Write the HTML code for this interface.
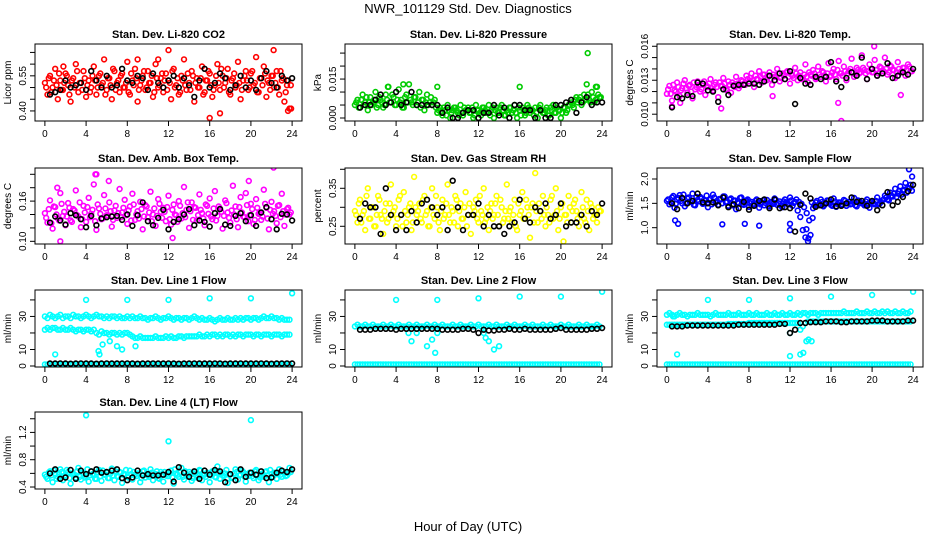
<!DOCTYPE html>
<html><head><meta charset="utf-8"><style>
html,body{margin:0;padding:0;background:#fff;}
svg{display:block;font-family:"Liberation Sans",Arial,sans-serif;}
</style></head><body>
<svg id="chart" width="936" height="540" viewBox="0 0 936 540">
<text x="468" y="13" text-anchor="middle" font-size="13">NWR_101129  Std. Dev. Diagnostics</text>
<text x="468" y="531" text-anchor="middle" font-size="13">Hour of Day (UTC)</text>
</svg>
<script>
// shared categories (hours)
const hoursC = [0,0.25,0.5,0.75,1,1.25,1.5,1.75,2,2.25,2.5,2.75,3,3.25,3.5,3.75,4,4.25,4.5,4.75,5,5.25,5.5,5.75,6,6.25,6.5,6.75,7,7.25,7.5,7.75,8,8.25,8.5,8.75,9,9.25,9.5,9.75,10,10.25,10.5,10.75,11,11.25,11.5,11.75,12,12.25,12.5,12.75,13,13.25,13.5,13.75,14,14.25,14.5,14.75,15,15.25,15.5,15.75,16,16.25,16.5,16.75,17,17.25,17.5,17.75,18,18.25,18.5,18.75,19,19.25,19.5,19.75,20,20.25,20.5,20.75,21,21.25,21.5,21.75,22,22.25,22.5,22.75,23,23.25,23.5,23.75];
const hoursC2 = [0.125,0.375,0.625,0.875,1.125,1.375,1.625,1.875,2.125,2.375,2.625,2.875,3.125,3.375,3.625,3.875,4.125,4.375,4.625,4.875,5.125,5.375,5.625,5.875,6.125,6.375,6.625,6.875,7.125,7.375,7.625,7.875,8.125,8.375,8.625,8.875,9.125,9.375,9.625,9.875,10.125,10.375,10.625,10.875,11.125,11.375,11.625,11.875,12.125,12.375,12.625,12.875,13.125,13.375,13.625,13.875,14.125,14.375,14.625,14.875,15.125,15.375,15.625,15.875,16.125,16.375,16.625,16.875,17.125,17.375,17.625,17.875,18.125,18.375,18.625,18.875,19.125,19.375,19.625,19.875,20.125,20.375,20.625,20.875,21.125,21.375,21.625,21.875,22.125,22.375,22.625,22.875,23.125,23.375,23.625,23.875];
const hoursK = [0.5,1,1.5,2,2.5,3,3.5,4,4.5,5,5.5,6,6.5,7,7.5,8,8.5,9,9.5,10,10.5,11,11.5,12,12.5,13,13.5,14,14.5,15,15.5,16,16.5,17,17.5,18,18.5,19,19.5,20,20.5,21,21.5,22,22.5,23,23.5,24];
const xTicks = [0,4,8,12,16,20,24];

// Panel 1 CO2
const co2Red = [0.52,0.47,0.55,0.50,0.58,0.45,0.53,0.49,0.56,0.51,0.44,0.54,0.60,0.48,0.52,0.57,0.46,0.53,0.50,0.59,0.47,0.55,0.51,0.62,0.49,0.54,0.45,0.57,0.52,0.48,0.56,0.50,0.61,0.47,0.53,0.58,0.44,0.51,0.55,0.49,0.57,0.52,0.46,0.60,0.50,0.54,0.48,0.56,0.53,0.45,0.58,0.51,0.47,0.55,0.62,0.49,0.52,0.57,0.44,0.54,0.50,0.59,0.48,0.53,0.56,0.46,0.51,0.60,0.49,0.55,0.52,0.58,0.47,0.54,0.50,0.61,0.45,0.53,0.57,0.49,0.56,0.51,0.63,0.48,0.54,0.59,0.46,0.52,0.55,0.50,0.57,0.47,0.53,0.44,0.51,0.41];
const co2Red2 = [0.50,0.54,0.48,0.53,0.51,0.56,0.49,0.52,0.55,0.47,0.53,0.50,0.57,0.52,0.49,0.54,0.51,0.48,0.55,0.53,0.50,0.56,0.52,0.47,0.54,0.51,0.58,0.49,0.53,0.55,0.50,0.52,0.48,0.56,0.51,0.54,0.49,0.53,0.57,0.50,0.52,0.55,0.48,0.54,0.51,0.56,0.53,0.49,0.52,0.57,0.50,0.54,0.48,0.53,0.51,0.56,0.49,0.55,0.52,0.50,0.54,0.47,0.53,0.57,0.51,0.49,0.55,0.52,0.58,0.50,0.54,0.48,0.53,0.56,0.51,0.52,0.49,0.55,0.53,0.50,0.57,0.52,0.48,0.54,0.51,0.56,0.53,0.49,0.55,0.52,0.50,0.57,0.54,0.48,0.53,0.51];
const co2Black = [0.47,0.48,0.49,0.53,0.50,0.51,0.52,0.49,0.57,0.53,0.50,0.55,0.50,0.51,0.58,0.53,0.52,0.55,0.54,0.49,0.56,0.52,0.50,0.53,0.55,0.50,0.54,0.51,0.46,0.53,0.58,0.50,0.52,0.56,0.54,0.49,0.51,0.55,0.50,0.53,0.49,0.54,0.57,0.52,0.50,0.55,0.53,0.54];
const co2OutH = [1.8,9,11,12,16,17,22.2,23.6,23.9];
const co2OutV = [0.59,0.62,0.62,0.66,0.37,0.39,0.66,0.40,0.41];

// Panel 2 pressure
const presGreen = [0.005,0.007,0.004,0.009,0.006,0.003,0.008,0.006,0.010,0.005,0.007,0.004,0.009,0.012,0.006,0.008,0.005,0.011,0.007,0.004,0.009,0.013,0.006,0.008,0.005,0.010,0.007,0.003,0.009,0.006,0.005,0.007,0.002,0.004,0.001,0.003,0.005,0.000,0.003,0.004,0.002,0.005,0.001,0.003,0.004,0.002,0.000,0.005,0.003,0.001,0.004,0.002,0.005,0.003,0.000,0.004,0.002,0.005,0.001,0.003,0.004,0.002,0.005,0.000,0.003,0.004,0.001,0.005,0.002,0.003,0.004,0.000,0.005,0.002,0.003,0.001,0.004,0.005,0.002,0.003,0.000,0.004,0.002,0.005,0.006,0.004,0.008,0.007,0.005,0.009,0.013,0.007,0.010,0.006,0.012,0.008];
const presGreen2 = [0.006,0.004,0.007,0.005,0.008,0.006,0.005,0.007,0.004,0.008,0.006,0.005,0.007,0.006,0.009,0.005,0.007,0.006,0.004,0.008,0.006,0.007,0.005,0.008,0.006,0.004,0.007,0.006,0.005,0.008,0.006,0.004,0.003,0.002,0.004,0.001,0.003,0.002,0.004,0.003,0.001,0.002,0.004,0.003,0.002,0.004,0.001,0.003,0.002,0.004,0.003,0.002,0.001,0.004,0.003,0.002,0.004,0.003,0.001,0.002,0.004,0.003,0.002,0.004,0.001,0.003,0.002,0.004,0.003,0.001,0.002,0.004,0.003,0.002,0.004,0.001,0.003,0.002,0.004,0.003,0.002,0.004,0.003,0.005,0.005,0.007,0.006,0.008,0.006,0.007,0.009,0.006,0.008,0.007,0.009,0.008];
const presBlack = [0.004,0.005,0.005,0.007,0.009,0.005,0.006,0.010,0.005,0.006,0.010,0.005,0.005,0.005,0.005,0.005,0.002,0.004,0.000,0.000,0.002,0.003,0.003,0.000,0.002,0.002,0.005,0.001,0.004,0.000,0.005,0.005,0.003,0.003,0.000,0.003,0.000,0.000,0.005,0.005,0.006,0.007,0.002,0.006,0.008,0.005,0.006,0.006];
const presOutH = [4.7,16,22.6,8,3.2,23.4];
const presOutV = [0.013,0.012,0.025,0.012,0.012,0.012];

// Panel 3 Li temp
const liTempMag = [0.0118,0.0125,0.0112,0.0121,0.0128,0.0116,0.0123,0.0130,0.0119,0.0126,0.0114,0.0122,0.0129,0.0120,0.0127,0.0117,0.0124,0.0131,0.0121,0.0128,0.0115,0.0125,0.0132,0.0122,0.0129,0.0119,0.0126,0.0133,0.0123,0.0130,0.0127,0.0134,0.0129,0.0136,0.0124,0.0131,0.0138,0.0128,0.0135,0.0130,0.0137,0.0126,0.0133,0.0140,0.0129,0.0136,0.0131,0.0138,0.0127,0.0134,0.0141,0.0130,0.0137,0.0132,0.0144,0.0128,0.0135,0.0139,0.0131,0.0142,0.0133,0.0137,0.0129,0.0145,0.0134,0.0140,0.0131,0.0147,0.0136,0.0142,0.0130,0.0138,0.0149,0.0133,0.0141,0.0136,0.0152,0.0139,0.0131,0.0144,0.0137,0.0148,0.0134,0.0142,0.0138,0.0150,0.0135,0.0143,0.0139,0.0132,0.0146,0.0137,0.0141,0.0134,0.0144,0.0138];
const liTempMag2 = [0.0122,0.0118,0.0126,0.0120,0.0124,0.0121,0.0127,0.0123,0.0125,0.0120,0.0128,0.0124,0.0126,0.0122,0.0129,0.0125,0.0127,0.0123,0.0126,0.0124,0.0128,0.0125,0.0127,0.0121,0.0126,0.0128,0.0124,0.0127,0.0125,0.0129,0.0126,0.0131,0.0132,0.0130,0.0134,0.0131,0.0133,0.0135,0.0132,0.0134,0.0131,0.0135,0.0133,0.0136,0.0132,0.0134,0.0137,0.0133,0.0135,0.0132,0.0136,0.0134,0.0131,0.0135,0.0133,0.0137,0.0134,0.0136,0.0132,0.0135,0.0138,0.0134,0.0136,0.0133,0.0137,0.0135,0.0139,0.0136,0.0134,0.0138,0.0136,0.0140,0.0137,0.0135,0.0139,0.0137,0.0141,0.0136,0.0138,0.0140,0.0137,0.0139,0.0136,0.0141,0.0138,0.0140,0.0137,0.0142,0.0139,0.0137,0.0140,0.0138,0.0141,0.0139,0.0142,0.0138];
const liTempBlack = [0.0106,0.0115,0.0114,0.0117,0.0116,0.0128,0.0127,0.0121,0.0120,0.0111,0.0122,0.0117,0.0125,0.0126,0.0126,0.0127,0.0127,0.0126,0.0129,0.0134,0.0130,0.0136,0.0131,0.0138,0.0109,0.0132,0.0127,0.0126,0.0133,0.0131,0.0133,0.0146,0.0129,0.0124,0.0132,0.0137,0.0134,0.0150,0.0131,0.0140,0.0134,0.0136,0.0145,0.0132,0.0134,0.0137,0.0135,0.0140];
const liTempOutH = [0.5,5.3,10.3,16.7,17,20.2,22.8,1.3];
const liTempOutV = [0.0107,0.0105,0.0116,0.0110,0.0094,0.0160,0.0117,0.0110];

// Panel 4 Amb box temp
const ambMag = [0.142,0.128,0.161,0.119,0.151,0.134,0.172,0.138,0.124,0.157,0.131,0.148,0.176,0.137,0.121,0.153,0.129,0.165,0.141,0.185,0.117,0.149,0.133,0.169,0.139,0.158,0.122,0.146,0.135,0.178,0.143,0.162,0.126,0.152,0.171,0.132,0.145,0.159,0.118,0.154,0.136,0.174,0.140,0.123,0.163,0.144,0.150,0.130,0.168,0.125,0.155,0.139,0.160,0.134,0.181,0.147,0.120,0.158,0.151,0.131,0.170,0.142,0.124,0.153,0.164,0.133,0.175,0.138,0.149,0.119,0.161,0.143,0.128,0.183,0.152,0.121,0.166,0.137,0.172,0.130,0.156,0.126,0.163,0.141,0.132,0.177,0.150,0.118,0.159,0.145,0.127,0.154,0.171,0.123,0.148,0.140];
const ambMag2 = [0.135,0.148,0.127,0.152,0.140,0.131,0.156,0.144,0.137,0.150,0.129,0.146,0.139,0.158,0.133,0.143,0.151,0.136,0.147,0.130,0.155,0.141,0.134,0.149,0.138,0.145,0.132,0.153,0.142,0.136,0.150,0.139,0.146,0.131,0.155,0.140,0.134,0.148,0.137,0.152,0.143,0.130,0.149,0.138,0.156,0.135,0.144,0.151,0.133,0.147,0.140,0.129,0.153,0.142,0.136,0.158,0.145,0.132,0.150,0.139,0.147,0.134,0.155,0.141,0.137,0.149,0.131,0.152,0.144,0.138,0.157,0.135,0.146,0.140,0.133,0.151,0.143,0.136,0.154,0.139,0.148,0.132,0.150,0.142,0.137,0.156,0.134,0.147,0.141,0.138,0.153,0.136,0.145,0.140,0.150,0.143];
const ambBlack = [0.128,0.137,0.131,0.125,0.142,0.139,0.133,0.121,0.138,0.124,0.134,0.136,0.137,0.138,0.132,0.140,0.123,0.139,0.158,0.130,0.124,0.135,0.147,0.118,0.129,0.133,0.140,0.148,0.124,0.131,0.129,0.122,0.142,0.148,0.125,0.123,0.138,0.142,0.130,0.139,0.123,0.143,0.151,0.133,0.118,0.141,0.140,0.131];
const ambOutH = [1.5,4.9,5.0,22.2,12.4,19.8,1.2,6.2];
const ambOutV = [0.10,0.20,0.20,0.21,0.105,0.19,0.18,0.19];

// Panel 5 gas stream RH
const rhYellow = [0.29,0.26,0.32,0.28,0.24,0.35,0.27,0.30,0.25,0.33,0.28,0.23,0.31,0.27,0.36,0.29,0.25,0.32,0.28,0.34,0.26,0.30,0.24,0.38,0.28,0.31,0.26,0.33,0.29,0.25,0.35,0.27,0.30,0.24,0.32,0.28,0.36,0.26,0.29,0.33,0.25,0.31,0.27,0.34,0.28,0.23,0.30,0.32,0.26,0.29,0.35,0.27,0.24,0.31,0.28,0.33,0.25,0.30,0.27,0.36,0.29,0.26,0.32,0.24,0.28,0.34,0.27,0.30,0.22,0.31,0.39,0.26,0.29,0.33,0.25,0.28,0.32,0.27,0.35,0.24,0.30,0.21,0.28,0.33,0.26,0.31,0.29,0.25,0.34,0.27,0.32,0.24,0.30,0.28,0.26,0.29];
const rhYellow2 = [0.28,0.31,0.26,0.29,0.33,0.27,0.30,0.25,0.28,0.32,0.27,0.29,0.26,0.31,0.28,0.30,0.27,0.33,0.25,0.29,0.28,0.31,0.26,0.30,0.29,0.27,0.32,0.28,0.25,0.30,0.28,0.33,0.26,0.29,0.27,0.31,0.28,0.30,0.26,0.32,0.29,0.27,0.30,0.25,0.31,0.28,0.29,0.27,0.33,0.28,0.26,0.30,0.29,0.27,0.31,0.28,0.32,0.26,0.29,0.27,0.30,0.28,0.25,0.31,0.29,0.27,0.32,0.28,0.30,0.26,0.29,0.31,0.27,0.28,0.30,0.26,0.33,0.28,0.29,0.27,0.31,0.28,0.26,0.30,0.29,0.32,0.27,0.28,0.30,0.26,0.29,0.31,0.27,0.28,0.30,0.29];
const rhBlack = [0.27,0.31,0.30,0.30,0.23,0.35,0.28,0.24,0.28,0.24,0.29,0.26,0.31,0.32,0.30,0.28,0.30,0.24,0.37,0.30,0.24,0.28,0.28,0.31,0.25,0.28,0.25,0.25,0.23,0.25,0.26,0.32,0.27,0.26,0.30,0.29,0.31,0.27,0.28,0.31,0.25,0.26,0.26,0.28,0.25,0.29,0.28,0.31];

// Panel 6 sample flow
const sfBlue = [1.55,1.48,1.62,1.41,1.58,1.67,1.50,1.44,1.60,1.53,1.70,1.46,1.57,1.63,1.49,1.55,1.42,1.60,1.68,1.51,1.47,1.58,1.64,1.52,1.45,1.60,1.55,1.38,1.50,1.62,1.47,1.56,1.43,1.53,1.49,1.58,1.41,1.52,1.46,1.57,1.44,1.51,1.60,1.47,1.54,1.42,1.58,1.49,1.62,1.45,1.53,1.35,1.22,0.95,0.80,0.72,0.85,1.40,1.52,1.46,1.58,1.44,1.50,1.55,1.47,1.60,1.43,1.52,1.48,1.57,1.45,1.53,1.49,1.61,1.44,1.55,1.50,1.46,1.58,1.41,1.53,1.48,1.62,1.50,1.56,1.66,1.58,1.72,1.64,1.80,1.70,1.85,1.76,1.92,1.82,1.88];
const sfBlue2 = [1.58,1.52,1.65,1.49,1.61,1.55,1.68,1.50,1.62,1.56,1.47,1.63,1.54,1.60,1.51,1.66,1.57,1.48,1.62,1.55,1.59,1.50,1.64,1.53,1.58,1.46,1.56,1.52,1.61,1.49,1.55,1.58,1.50,1.47,1.55,1.52,1.48,1.56,1.51,1.45,1.53,1.49,1.57,1.50,1.46,1.54,1.52,1.48,1.56,1.51,1.58,1.53,1.49,1.42,1.30,1.15,1.52,1.46,1.55,1.49,1.53,1.47,1.56,1.50,1.45,1.54,1.49,1.52,1.47,1.55,1.50,1.48,1.53,1.46,1.56,1.51,1.49,1.54,1.47,1.52,1.50,1.55,1.48,1.53,1.58,1.62,1.56,1.66,1.70,1.63,1.75,1.68,1.78,1.72,1.80,1.76];
const sfBlack = [1.50,1.38,1.61,1.50,1.55,1.70,1.52,1.50,1.52,1.46,1.62,1.42,1.48,1.40,1.53,1.37,1.45,1.55,1.58,1.40,1.58,1.40,1.42,1.40,0.92,1.47,1.70,1.60,1.43,1.46,1.50,1.58,1.44,1.45,1.50,1.62,1.53,1.55,1.45,1.55,1.36,1.46,1.73,1.46,1.53,1.63,1.75,1.88];
const sfOutH = [0.8,1.1,5.4,7.6,9,23.6,23.9,14.2,13.6,13.8,12,12];
const sfOutV = [1.15,1.08,1.07,1.08,1.04,2.2,2.05,1.2,0.97,0.78,1.08,0.95];

// Panel 7 line 1 flow
const l1Upper = [30,29,31,30,29,30,31,29,30,30,29,31,30,30,29,30,31,30,29,30,31,30,30,29,30,29,30,30,29,30,29,29,30,29,30,29,29,30,29,29,28,29,29,30,29,28,29,29,30,29,28,29,29,28,29,29,28,29,30,29,28,29,28,28,29,28,27,28,29,28,28,29,28,28,29,28,29,28,29,29,28,29,29,28,29,30,29,29,30,29,29,28,29,28,28,28];
const l1Middle = [22,23,22,23,23,22,22,23,22,22,23,22,21,22,22,21,22,22,21,22,20,19,21,20,20,19,20,20,19,20,19,20,20,19,18,17,17,18,17,17,17,17,17,18,17,17,17,18,17,18,17,17,18,18,17,18,18,18,18,18,19,18,18,19,18,19,19,18,19,18,19,19,18,19,18,19,19,18,19,19,19,18,19,19,18,19,19,19,18,19,19,19,18,19,19,19];
const l1Lower = [1,1,1,1,1,1,1,1,1,1,1,1,1,1,1,1,1,1,1,1,1,1,1,1,1,1,1,1,1,1,1,1,1,1,1,1,1,1,1,1,1,1,1,1,1,1,1,1,1,1,1,1,1,1,1,1,1,1,1,1,1,1,1,1,1,1,1,1,1,1,1,1,1,1,1,1,1,1,1,1,1,1,1,1,1,1,1,1,1,1,1,1,1,1,1,1];
const l1Black = [1.5,1.5,1.6,1.5,1.4,1.5,1.6,1.5,1.5,1.4,1.5,1.6,1.5,1.5,1.5,1.6,1.5,1.4,1.5,1.5,1.6,1.5,1.5,1.6,1.5,1.4,1.5,1.5,1.6,1.5,1.5,1.5,1.6,1.5,1.4,1.5,1.5,1.6,1.5,1.5,1.5,1.6,1.5,1.4,1.5,1.5,1.6,1.5];
const l1OutH = [4,8,12,16,20,24,1,5.2,5.3,5.6,7,7.5,8.8,6.3];
const l1OutV = [40,40,40,41,41,44,7,9,7,13,12,10,12,15];

// Panel 8 line 2 flow
const l2Band = [24,25,24,24,25,24,24,25,24,24,24,25,24,24,25,24,24,25,24,24,24,25,24,24,25,24,24,24,25,24,24,25,24,24,25,24,24,24,25,24,24,25,24,24,24,25,24,24,25,24,24,24,25,24,24,25,24,24,24,25,24,24,25,24,24,24,25,24,24,25,24,24,24,25,24,24,25,24,24,24,25,24,24,25,24,24,24,25,24,24,25,24,24,24,25,24];
const l2Lower = [1,1,1,1,1,1,1,1,1,1,1,1,1,1,1,1,1,1,1,1,1,1,1,1,1,1,1,1,1,1,1,1,1,1,1,1,1,1,1,1,1,1,1,1,1,1,1,1,1,1,1,1,1,1,1,1,1,1,1,1,1,1,1,1,1,1,1,1,1,1,1,1,1,1,1,1,1,1,1,1,1,1,1,1,1,1,1,1,1,1,1,1,1,1,1,1];
const l2Black = [22,22,22,22.5,22.5,22.5,22.5,22,22.5,22.5,22.5,22.5,22.5,22.5,22.5,22.5,22,22,22,22,22.5,22.5,22,20,22,21.5,21.5,22,22,22.5,22,22,22.5,22,22,22,22,22,22.5,23,22,22,22,22,22,22.5,22.5,23];
const l2OutH = [4,8,12,16,20,24,5.5,6,7,7.5,8,12.5,13,13.5,14,5.2,7.8,12.7];
const l2OutV = [40,40,41,42,42,45,15,20,12,16,20,20,15,10,12,20,8,17];

// Panel 9 line 3 flow
const l3Upper = [31,32,31,30,31,32,31,31,30,31,31,31,32,31,31,31,31,30,31,32,31,31,31,31,32,31,31,31,32,31,31,31,32,31,31,32,31,31,31,32,31,31,32,31,31,32,31,31,32,31,31,32,31,32,32,31,32,32,32,31,32,32,32,32,32,32,32,32,32,33,32,32,32,32,33,32,32,32,33,32,32,33,32,32,33,32,33,32,32,33,32,32,33,32,32,33];
const l3Middle = [25,25,25,25,25,25,25,25,25,25,25,25,25,25,25,25,25,25,25,25,25,25,25,25,25.5,25.5,25.5,25.5,25.5,25.5,25.5,25.5,26,26,26,26,26,26,26,26,26,26,26,26,26,26,26,26,26,26,26,26,22,24,26,27,27,27,27,27,27,27,27,27,27,27,27,27,27,27,27,27,27,27,27,27,27,27,27,27,27,27,27,27,27,27,27,27,27,27,27,27,27,27,27,27];
const l3Lower = [1,1,1,1,1,1,1,1,1,1,1,1,1,1,1,1,1,1,1,1,1,1,1,1,1,1,1,1,1,1,1,1,1,1,1,1,1,1,1,1,1,1,1,1,1,1,1,1,1,1,1,1,1,1,1,1,1,1,1,1,1,1,1,1,1,1,1,1,1,1,1,1,1,1,1,1,1,1,1,1,1,1,1,1,1,1,1,1,1,1,1,1,1,1,1,1];
const l3Black = [24,24,24,24.5,24.5,24.5,24.5,24.5,24.5,24.5,24.5,24.5,24.5,25,25,25,25,25,25,25,25,25.5,25.5,20,22,26,26,26.5,26.5,26.5,27,27,27,26.5,26.5,27,27,27,27,27.5,27.5,27.5,27,27,27,27,27.5,27.5];
const l3OutH = [1,4,8,12,16,20,24,13,13.3,13.6,13.8,14.1,12,12,0.6];
const l3OutV = [7,40,40,41,42,43,45,7,8,15,16,15,6,20,30];

// Panel 10 line 4 flow
const l4Cyan = [0.58,0.52,0.63,0.47,0.60,0.55,0.66,0.50,0.57,0.62,0.45,0.59,0.54,0.68,0.51,0.60,0.56,0.48,0.63,0.57,0.52,0.65,0.49,0.58,0.61,0.53,0.67,0.50,0.56,0.62,0.46,0.59,0.55,0.64,0.51,0.58,0.60,0.47,0.63,0.54,0.57,0.66,0.50,0.59,0.53,0.62,0.48,0.58,0.56,0.64,0.45,0.60,0.55,0.68,0.51,0.57,0.62,0.49,0.59,0.54,0.65,0.50,0.58,0.61,0.47,0.63,0.55,0.70,0.52,0.57,0.60,0.46,0.59,0.54,0.66,0.51,0.58,0.62,0.48,0.56,0.60,0.53,0.65,0.50,0.58,0.55,0.63,0.47,0.59,0.61,0.52,0.66,0.55,0.60,0.57,0.68];
const l4Cyan2 = [0.55,0.61,0.57,0.64,0.52,0.59,0.62,0.56,0.65,0.53,0.60,0.58,0.63,0.55,0.61,0.54,0.66,0.57,0.59,0.52,0.62,0.56,0.64,0.58,0.53,0.60,0.57,0.63,0.55,0.61,0.58,0.65,0.54,0.59,0.62,0.56,0.60,0.53,0.64,0.58,0.55,0.61,0.57,0.63,0.52,0.59,0.62,0.56,0.60,0.54,0.66,0.58,0.61,0.55,0.63,0.57,0.59,0.53,0.62,0.56,0.64,0.58,0.55,0.60,0.57,0.63,0.54,0.61,0.59,0.56,0.65,0.58,0.53,0.60,0.62,0.57,0.64,0.55,0.59,0.61,0.56,0.63,0.58,0.54,0.60,0.62,0.57,0.65,0.55,0.59,0.61,0.58,0.63,0.56,0.60,0.62];
const l4Black = [0.60,0.66,0.52,0.54,0.65,0.52,0.64,0.59,0.63,0.66,0.61,0.62,0.64,0.66,0.53,0.50,0.54,0.64,0.57,0.59,0.57,0.57,0.58,0.62,0.48,0.69,0.61,0.55,0.63,0.52,0.64,0.58,0.65,0.63,0.47,0.59,0.50,0.66,0.55,0.61,0.58,0.63,0.53,0.54,0.61,0.64,0.62,0.66];
const l4OutH = [4,12,20];
const l4OutV = [1.45,1.07,1.38];

const NS = 'http://www.w3.org/2000/svg';
const svg = document.getElementById('chart');
const cols = [[35,302],[345,612],[657,923]];
const rows = [[44,121],[168,244],[290,367],[412,489]];

function el(tag, attrs, parent){
  const e = document.createElementNS(NS, tag);
  for (const k in attrs) e.setAttribute(k, attrs[k]);
  (parent||svg).appendChild(e);
  return e;
}

const panels = [
 {key:'co2', title:'Stan. Dev. Li-820 CO2', ylab:'Licor ppm', c:0,r:0, ylim:[0.357,0.686], yt:[0.40,0.45,0.50,0.55,0.60,0.65], yl:['0.40','','','0.55','',''],
  series:[[hoursC,co2Red,'#ff0000'],[hoursC2,co2Red2,'#ff0000'],[co2OutH,co2OutV,'#ff0000'],[hoursK,co2Black,'#000000']]},
 {key:'pressure', title:'Stan. Dev. Li-820 Pressure', ylab:'kPa', c:1,r:0, ylim:[-0.00115,0.0285], yt:[0,0.005,0.010,0.015,0.020,0.025], yl:['0.000','','','0.015','',''],
  series:[[hoursC,presGreen,'#00cc00'],[hoursC2,presGreen2,'#00cc00'],[presOutH,presOutV,'#00cc00'],[hoursK,presBlack,'#000000']]},
 {key:'li-temp', title:'Stan. Dev. Li-820 Temp.', ylab:'degrees C', c:2,r:0, ylim:[0.0094,0.0162], yt:[0.010,0.011,0.012,0.013,0.014,0.015,0.016], yl:['0.010','','','0.013','','','0.016'],
  series:[[hoursC,liTempMag,'#ff00ff'],[hoursC2,liTempMag2,'#ff00ff'],[liTempOutH,liTempOutV,'#ff00ff'],[hoursK,liTempBlack,'#000000']]},
 {key:'amb-temp', title:'Stan. Dev. Amb. Box Temp.', ylab:'degrees C', c:0,r:1, ylim:[0.096,0.2094], yt:[0.10,0.12,0.14,0.16,0.18,0.20], yl:['0.10','','','0.16','',''],
  series:[[hoursC,ambMag,'#ff00ff'],[hoursC2,ambMag2,'#ff00ff'],[ambOutH,ambOutV,'#ff00ff'],[hoursK,ambBlack,'#000000']]},
 {key:'rh', title:'Stan. Dev. Gas Stream RH', ylab:'percent', c:1,r:1, ylim:[0.2034,0.4034], yt:[0.25,0.30,0.35,0.40], yl:['0.25','','0.35',''],
  series:[[hoursC,rhYellow,'#ffff00'],[hoursC2,rhYellow2,'#ffff00'],[hoursK,rhBlack,'#000000']]},
 {key:'sample-flow', title:'Stan. Dev. Sample Flow', ylab:'ml/min', c:2,r:1, ylim:[0.665,2.226], yt:[1.0,1.5,2.0], yl:['1.0','1.5','2.0'],
  series:[[hoursC,sfBlue,'#0000ff'],[hoursC2,sfBlue2,'#0000ff'],[sfOutH,sfOutV,'#0000ff'],[hoursK,sfBlack,'#000000']]},
 {key:'line1', title:'Stan. Dev. Line 1 Flow', ylab:'ml/min', c:0,r:2, ylim:[-0.6,46], yt:[0,10,20,30,40], yl:['0','10','','30',''],
  series:[[hoursC,l1Upper,'#00ffff'],[hoursC,l1Middle,'#00ffff'],[hoursC,l1Lower,'#00ffff'],[l1OutH,l1OutV,'#00ffff'],[hoursK,l1Black,'#000000']]},
 {key:'line2', title:'Stan. Dev. Line 2 Flow', ylab:'ml/min', c:1,r:2, ylim:[-0.6,46], yt:[0,10,20,30,40], yl:['0','10','','30',''],
  series:[[hoursC,l2Band,'#00ffff'],[hoursC,l2Lower,'#00ffff'],[l2OutH,l2OutV,'#00ffff'],[hoursK,l2Black,'#000000']]},
 {key:'line3', title:'Stan. Dev. Line 3 Flow', ylab:'ml/min', c:2,r:2, ylim:[-0.6,46], yt:[0,10,20,30,40], yl:['0','10','','30',''],
  series:[[hoursC,l3Upper,'#00ffff'],[hoursC,l3Middle,'#00ffff'],[hoursC,l3Lower,'#00ffff'],[l3OutH,l3OutV,'#00ffff'],[hoursK,l3Black,'#000000']]},
 {key:'line4', title:'Stan. Dev. Line 4 (LT) Flow', ylab:'ml/min', c:0,r:3, ylim:[0.371,1.499], yt:[0.4,0.6,0.8,1.0,1.2,1.4], yl:['0.4','','0.8','','1.2',''],
  series:[[hoursC,l4Cyan,'#00ffff'],[hoursC2,l4Cyan2,'#00ffff'],[l4OutH,l4OutV,'#00ffff'],[hoursK,l4Black,'#000000']]}
];

panels.forEach(p => {
  const L = cols[p.c][0], R = cols[p.c][1], T = rows[p.r][0], B = rows[p.r][1];
  const w = R - L, h = B - T;
  const xmin = -0.96, xmax = 24.96;
  const xs = v => L + (v - xmin) / (xmax - xmin) * w;
  const ys = v => B - (v - p.ylim[0]) / (p.ylim[1] - p.ylim[0]) * h;
  const g = el('g', {});
  
  
  const t = el('text', {x:(L+R)/2, y:T-6, 'text-anchor':'middle', 'font-size':11, 'font-weight':'bold'}, g);
  t.textContent = p.title;
  
  
  const yl = el('text', {x:0, y:0, 'text-anchor':'middle', 'font-size':10, transform:`translate(${L-24},${(T+B)/2}) rotate(-90)`}, g);
  yl.textContent = p.ylab;
  
  
  xTicks.forEach(v => {
    const x = xs(v);
    el('line', {x1:x, x2:x, y1:B, y2:B+5, stroke:'#000', 'stroke-width':1}, g);
    const tl = el('text', {x:x, y:B+16, 'text-anchor':'middle', 'font-size':10}, g);
    tl.textContent = v;
    
    
  });
  p.yt.forEach((v, i) => {
    const y = ys(v);
    el('line', {x1:L-5, x2:L, y1:y, y2:y, stroke:'#000', 'stroke-width':1}, g);
    if (p.yl[i]) {
      const tl = el('text', {x:0, y:0, 'text-anchor':'middle', 'font-size':10, transform:`translate(${L-9},${y}) rotate(-90)`}, g);
      tl.textContent = p.yl[i];
      
      
    }
  });
  const cpId = 'cp-' + p.key;
  const cp = el('clipPath', {id:cpId}, g);
  el('rect', {x:L, y:T, width:w, height:h}, cp);
  const pts = el('g', {'clip-path':`url(#${cpId})`}, g);
  
  
  p.series.forEach(s => {
    const hx = s[0], vy = s[1], col = s[2];
    const n = Math.min(hx.length, vy.length);
    for (let i = 0; i < n; i++) {
      const c = el('circle', {cx:xs(hx[i]).toFixed(1), cy:ys(vy[i]).toFixed(1), r:2.4, fill:'none', stroke:col, 'stroke-width':1.6}, pts);
      
      
    }
  });
  const box = el('rect', {x:L, y:T, width:w, height:h, fill:'none', stroke:'#000', 'stroke-width':1}, g);
  
  
});
</script>
</body></html>
